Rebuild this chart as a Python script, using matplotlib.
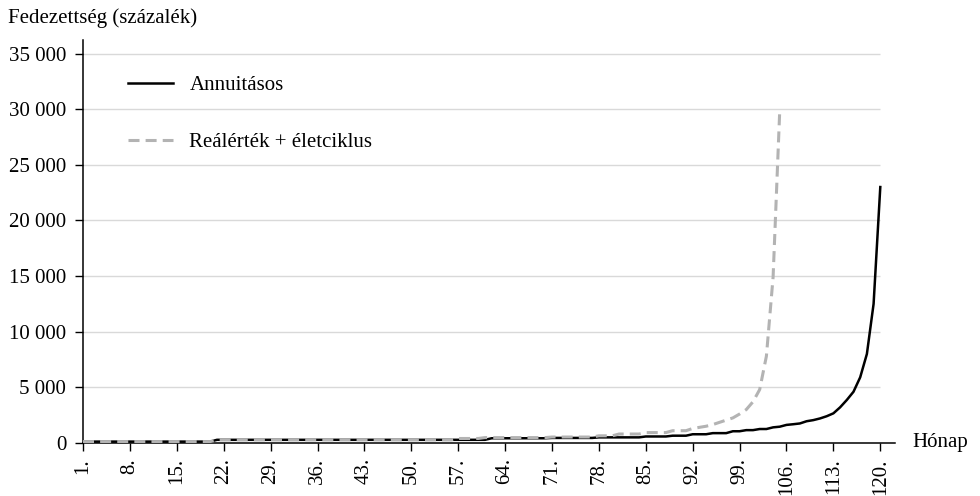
import numpy as np
import matplotlib
matplotlib.use("Agg")
import matplotlib.pyplot as plt
from matplotlib.ticker import FuncFormatter

plt.rcParams['font.family'] = ['Liberation Serif', 'DejaVu Serif']

# months 1..120
months = np.arange(1, 121)

# Annuitásos
annuitasos = ([120] * 20 + [280] * 41 + [420] * 9 + [450] * 7 + [500] * 7 +
              [580] * 4 + [650] * 3 + [780] * 3 + [880] * 3 +
              [1050, 1050, 1150, 1150, 1250, 1250, 1400, 1460, 1620, 1680,
               1750, 1950, 2050, 2200, 2400, 2660, 3200, 3860, 4600, 5900,
               8000, 12500, 23000])

# Reálérték + életciklus, ends at month 105
realertek = ([120] * 20 + [280] * 36 + [400] * 4 + [480] * 10 + [530] * 7 +
             [640] * 3 + [800] * 4 + [930] * 4 + [1100] * 3 +
             [1300, 1400, 1500, 1650, 1850, 2050, 2250, 2600, 3000, 3700,
              4800, 7800, 14900, 30000])

fig = plt.figure(figsize=(9.8, 4.96), dpi=100)
ax = fig.add_axes([0.0847, 0.107, 0.8286, 0.812])

yticks = np.arange(0, 35001, 5000)
ax.hlines(yticks[1:], 1, 120, colors='#d9d9d9', linewidth=1.0, zorder=0)

ax.plot(months, annuitasos, color='black', linewidth=1.8, label='Annuitásos', zorder=2)
ax.plot(months[:len(realertek)], realertek, color='#b3b3b3', linewidth=2.2,
        dashes=(3.6, 2.0), label='Reálérték + életciklus', zorder=3)

ax.set_xlim(1, 122.2)
ax.set_ylim(0, 36200)
ax.set_xticks(np.arange(1, 121, 7))
ax.set_xticklabels([f"{m}." for m in range(1, 121, 7)], rotation=90)
ax.set_yticks(yticks)
ax.yaxis.set_major_formatter(FuncFormatter(lambda v, p: f"{v:,.0f}".replace(",", " ")))
ax.tick_params(axis='both', labelsize=15, length=6, width=1, direction='out')
ax.tick_params(axis='x', pad=5)
ax.tick_params(axis='y', pad=6)

for s in ['top', 'right']:
    ax.spines[s].set_visible(False)
for s in ['left', 'bottom']:
    ax.spines[s].set_linewidth(1.1)

ax.legend(loc='upper left', bbox_to_anchor=(0.0554, 0.912), frameon=False,
          fontsize=15, handlelength=2.15, handletextpad=0.8, labelspacing=1.8,
          borderpad=0, borderaxespad=0)

fig.text(0.008, 0.963, "Fedezettség (százalék)", fontsize=15, va='center', ha='left')
fig.text(0.931, 1 - 443 / 496, "Hónap", fontsize=15, va='center', ha='left')

fig.savefig("out.png", dpi=100)
